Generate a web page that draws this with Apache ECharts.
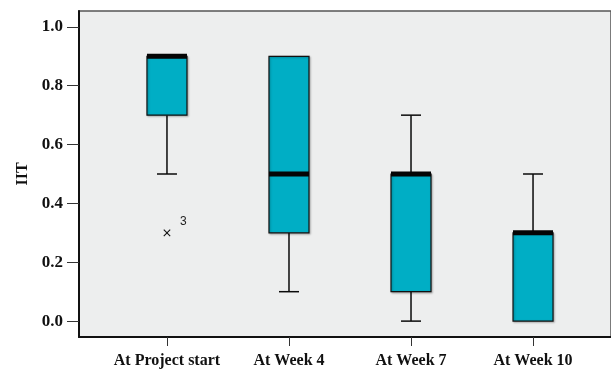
<!DOCTYPE html>
<html><head><meta charset="utf-8">
<script src="https://cdn.jsdelivr.net/npm/echarts@6/dist/echarts.min.js"></script>
<style>html,body{margin:0;padding:0;background:#fff}#c{width:611px;height:369px}</style>
</head><body><div id="c"></div>
<script>
const categories = ['At Project start', 'At Week 4', 'At Week 7', 'At Week 10'];
const minVals    = [0.5, 0.1, 0.0, 0.0];
const q1Vals     = [0.7, 0.3, 0.1, 0.0];
const medianVals = [0.9, 0.5, 0.5, 0.3];
const q3Vals     = [0.9, 0.9, 0.5, 0.3];
const maxVals    = [0.9, 0.9, 0.7, 0.5];
const outlierCat = [0];
const outlierVal = [0.3];
const outlierLbl = ['3'];
const yTicks = [0, 0.2, 0.4, 0.6, 0.8, 1.0];

const boxData = categories.map((c, i) => [i, minVals[i], q1Vals[i], medianVals[i], q3Vals[i], maxVals[i]]);
const outData = outlierCat.map((c, i) => [c, outlierVal[i], outlierLbl[i]]);

const serif = 'Liberation Serif';
const chart = echarts.init(document.getElementById('c'), null, {renderer: 'canvas'});
chart.setOption({
  animation: false,
  backgroundColor: '#ffffff',
  grid: {left: 79, top: 11, right: 0, bottom: 32, outerBoundsMode: 'none', containLabel: false,
    show: true, backgroundColor: '#edeeee', borderColor: '#555', borderWidth: 1.5},
  xAxis: {
    type: 'value', min: -0.721, max: 3.639,
    splitLine: {show: false},
    axisLine: {show: true, onZero: false, lineStyle: {color: '#111', width: 2}},
    axisTick: {show: true, customValues: [0, 1, 2, 3], length: 9, lineStyle: {color: '#333', width: 1}},
    axisLabel: {customValues: [0, 1, 2, 3], formatter: v => categories[Math.round(v)] || '',
      fontFamily: serif, fontWeight: 'bold', fontSize: 16, color: '#111', margin: 16}
  },
  yAxis: {
    type: 'value', min: -0.054, max: 1.054,
    name: 'IIT', nameLocation: 'middle', nameRotate: 90, nameGap: 47,
    nameTextStyle: {fontFamily: serif, fontWeight: 'bold', fontSize: 16, color: '#111'},
    splitLine: {show: false},
    axisLine: {show: true, onZero: false, lineStyle: {color: '#111', width: 2}},
    axisTick: {show: true, customValues: yTicks, length: 12, lineStyle: {color: '#333', width: 1}},
    axisLabel: {customValues: yTicks, formatter: v => v.toFixed(1),
      fontFamily: serif, fontWeight: 'bold', fontSize: 17, color: '#111', margin: 16}
  },
  series: [
    {
      type: 'custom',
      data: boxData,
      encode: {x: 0, y: [1, 2, 3, 4, 5]},
      renderItem: function (params, api) {
        const x = api.value(0);
        const pMin = api.coord([x, api.value(1)]);
        const pQ1 = api.coord([x, api.value(2)]);
        const pMed = api.coord([x, api.value(3)]);
        const pQ3 = api.coord([x, api.value(4)]);
        const pMax = api.coord([x, api.value(5)]);
        const unit = api.size([1, 0])[0];
        const hb = unit * 0.164, hc = unit * 0.082;
        const cx = pMed[0];
        const ls = {stroke: '#0a0a0a', lineWidth: 1.5};
        const ch = [];
        if (api.value(5) > api.value(4)) {
          ch.push({type: 'line', shape: {x1: cx, y1: pQ3[1], x2: cx, y2: pMax[1]}, style: ls});
          ch.push({type: 'line', shape: {x1: cx - hc, y1: pMax[1], x2: cx + hc, y2: pMax[1]}, style: ls});
        }
        if (api.value(1) < api.value(2)) {
          ch.push({type: 'line', shape: {x1: cx, y1: pQ1[1], x2: cx, y2: pMin[1]}, style: ls});
          ch.push({type: 'line', shape: {x1: cx - hc, y1: pMin[1], x2: cx + hc, y2: pMin[1]}, style: ls});
        }
        ch.push({type: 'rect', shape: {x: cx - hb, y: pQ3[1], width: 2 * hb, height: pQ1[1] - pQ3[1]},
          style: {fill: '#00aec5', stroke: '#111', lineWidth: 1.2, shadowBlur: 2, shadowColor: 'rgba(0,0,0,0.25)', shadowOffsetX: 1, shadowOffsetY: 1}});
        ch.push({type: 'rect', shape: {x: cx - hb, y: pMed[1] - 2.5, width: 2 * hb, height: 5}, style: {fill: '#050505'}});
        return {type: 'group', children: ch};
      }
    },
    {
      type: 'custom',
      data: outData,
      encode: {x: 0, y: 1},
      renderItem: function (params, api) {
        const p = api.coord([api.value(0), api.value(1)]);
        const s = 3.2;
        const st = {stroke: '#111', lineWidth: 1.1};
        return {type: 'group', children: [
          {type: 'line', shape: {x1: p[0] - s, y1: p[1] - s, x2: p[0] + s, y2: p[1] + s}, style: st},
          {type: 'line', shape: {x1: p[0] - s, y1: p[1] + s, x2: p[0] + s, y2: p[1] - s}, style: st},
          {type: 'text', x: p[0] + 13, y: p[1] - 11, style: {text: api.value(2), fontFamily: 'Liberation Sans', fontSize: 12, fill: '#222', align: 'left', verticalAlign: 'middle'}}
        ]};
      }
    }
  ]
});
</script>
</body></html>
